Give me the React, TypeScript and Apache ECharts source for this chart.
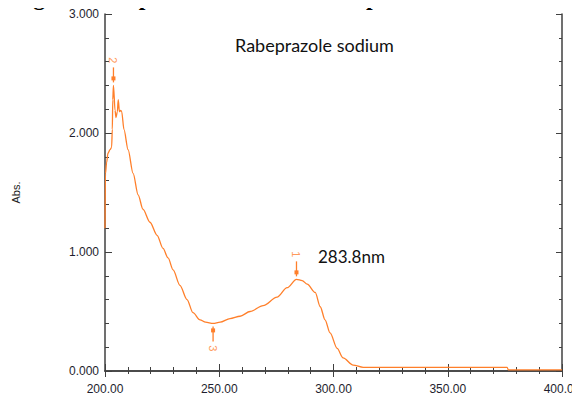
import React, { useEffect, useRef } from "react";
import * as echarts from "echarts";

const wavelengths = [200.0, 200.2, 200.7, 201.3, 202.2, 202.9, 203.2, 203.4, 203.7, 204.4, 204.8, 205.4, 205.8, 206.3, 206.9, 207.3, 208.3, 210.1, 212.3, 214.5, 216.6, 219.7, 222.8, 225.4, 227.6, 229.8, 232.8, 235.9, 238.5, 241.6, 244.0, 247.3, 250.4, 254.7, 259.1, 263.5, 269.2, 275.3, 279.7, 283.8, 286.3, 288.5, 292.0, 294.2, 296.3, 298.5, 301.6, 304.2, 308.6, 313.0, 317.4, 376.0, 376.5, 400.0];
const absorbance = [1.20, 1.66, 1.75, 1.83, 1.86, 1.88, 2.03, 2.28, 2.40, 2.19, 2.13, 2.18, 2.28, 2.18, 2.19, 2.18, 2.03, 1.86, 1.66, 1.48, 1.36, 1.25, 1.14, 1.03, 0.95, 0.85, 0.72, 0.60, 0.49, 0.43, 0.41, 0.40, 0.41, 0.44, 0.46, 0.50, 0.55, 0.62, 0.70, 0.77, 0.76, 0.73, 0.66, 0.54, 0.43, 0.32, 0.19, 0.11, 0.05, 0.03, 0.03, 0.03, 0.01, 0.01];

// peak-pick markers
const pickWavelengths = [203.7, 283.8, 247.3];
const pickValues = [2.40, 0.77, 0.40];
const pickDirections = [-1, -1, 1]; // -1 = peak (label above), 1 = valley (label below)
const pickLabels = ["2", "1", "3"];

const xTicks = [200, 250, 300, 350, 400];
const yTicks = [0, 1, 2, 3];

const titleText = "Fig 2: Absorption maxima of Rabeprazole sodium";
const sampleName = "Rabeprazole sodium";
const peakNote = "283.8nm";

const LINE = "#ff7f2a";
const AXIS = "#404040";

export default function App() {
  const ref = useRef<HTMLDivElement>(null);
  useEffect(() => {
    if (!ref.current) return;
    const chart = echarts.init(ref.current, null, { renderer: "svg" });
    const curve = wavelengths.map((w, i) => [w, absorbance[i]]);
    const picks = pickWavelengths.map((w, i) => [w, pickValues[i], pickDirections[i], pickLabels[i]]);
    const axisCommon = {
      axisLine: { show: true, lineStyle: { color: AXIS, width: 1.5 } },
      splitLine: { show: false },
    };
    chart.setOption({
      animation: false,
      backgroundColor: "#ffffff",
      grid: { left: 105, right: 18, top: 14, bottom: 36, outerBoundsMode: "none", containLabel: false },
      xAxis: [
        {
          type: "value",
          min: xTicks[0],
          max: xTicks[xTicks.length - 1],
          interval: 50,
          position: "bottom",
          name: "nm.",
          nameLocation: "middle",
          nameGap: 28,
          nameTextStyle: { fontFamily: "Liberation Sans", fontSize: 11, color: "#222" },
          ...axisCommon,
          axisTick: { show: true, inside: true, length: 7, lineStyle: { color: AXIS } },
          minorTick: { show: true, splitNumber: 5, length: 4, lineStyle: { color: AXIS } },
          axisLabel: {
            margin: 12,
            fontFamily: "Liberation Sans",
            fontSize: 12,
            color: "#1e1e2e",
            formatter: (v: number) => v.toFixed(2),
          },
        },
        {
          type: "value",
          min: xTicks[0],
          max: xTicks[xTicks.length - 1],
          interval: 50,
          position: "top",
          ...axisCommon,
          axisTick: { show: true, inside: true, length: 6, lineStyle: { color: AXIS } },
          minorTick: { show: true, splitNumber: 5, length: 3, lineStyle: { color: AXIS } },
          axisLabel: { show: false },
        },
      ],
      yAxis: [
        {
          type: "value",
          min: yTicks[0],
          max: yTicks[yTicks.length - 1],
          interval: 1,
          position: "left",
          name: "Abs.",
          nameLocation: "middle",
          nameGap: 84,
          nameRotate: 90,
          nameTextStyle: { fontFamily: "Liberation Sans", fontSize: 11, color: "#222" },
          ...axisCommon,
          axisTick: { show: true, inside: true, length: 7, lineStyle: { color: AXIS } },
          minorTick: { show: true, splitNumber: 5, length: 4, lineStyle: { color: AXIS } },
          axisLabel: {
            margin: 6,
            fontFamily: "Liberation Sans",
            fontSize: 12,
            color: "#1e1e2e",
            formatter: (v: number) => v.toFixed(3),
          },
        },
        {
          type: "value",
          min: yTicks[0],
          max: yTicks[yTicks.length - 1],
          interval: 1,
          position: "right",
          ...axisCommon,
          axisTick: { show: true, inside: true, length: 6, lineStyle: { color: AXIS } },
          minorTick: { show: true, splitNumber: 5, length: 3, lineStyle: { color: AXIS } },
          axisLabel: { show: false },
        },
      ],
      series: [
        {
          type: "line",
          data: curve,
          xAxisIndex: 0,
          yAxisIndex: 0,
          showSymbol: false,
          symbol: "none",
          smooth: 0.3,
          smoothMonotone: "x",
          lineStyle: { color: LINE, width: 1.3 },
          z: 3,
        },
        {
          type: "custom",
          xAxisIndex: 0,
          yAxisIndex: 0,
          data: picks,
          z: 4,
          renderItem: (params: any, api: any) => {
            const p = api.coord([api.value(0), api.value(1)]);
            const d = api.value(2);
            const label = pickLabels[params.dataIndex];
            return {
              type: "group",
              children: [
                {
                  type: "line",
                  shape: { x1: p[0], y1: p[1] + d * 3, x2: p[0], y2: p[1] + d * 18 },
                  style: { stroke: LINE, lineWidth: 1.3 },
                },
                {
                  type: "rect",
                  shape: { x: p[0] - 2, y: p[1] + d * 7 - 2, width: 4, height: 4 },
                  style: { fill: LINE },
                },
                {
                  type: "text",
                  x: p[0],
                  y: p[1] + d * 25,
                  rotation: -Math.PI / 2,
                  style: {
                    text: label,
                    fill: "#ff9a5c",
                    font: "11px 'Liberation Sans'",
                    align: "center",
                    verticalAlign: "middle",
                  },
                },
              ],
            };
          },
        },
      ],
      graphic: [
        {
          type: "text",
          x: 12,
          y: -15,
          style: {
            text: titleText,
            fill: "#000",
            font: "bold 24px 'Liberation Serif'",
          },
        },
        {
          type: "text",
          x: 235,
          y: 36,
          style: { text: sampleName, fill: "#111", font: "18px Lato" },
        },
        {
          type: "text",
          x: 318,
          y: 248,
          style: { text: peakNote, fill: "#111", font: "17px Lato" },
        },
      ],
    });
    return () => chart.dispose();
  }, []);
  return <div ref={ref} style={{ width: 580, height: 407, margin: -8 }} />;
}
